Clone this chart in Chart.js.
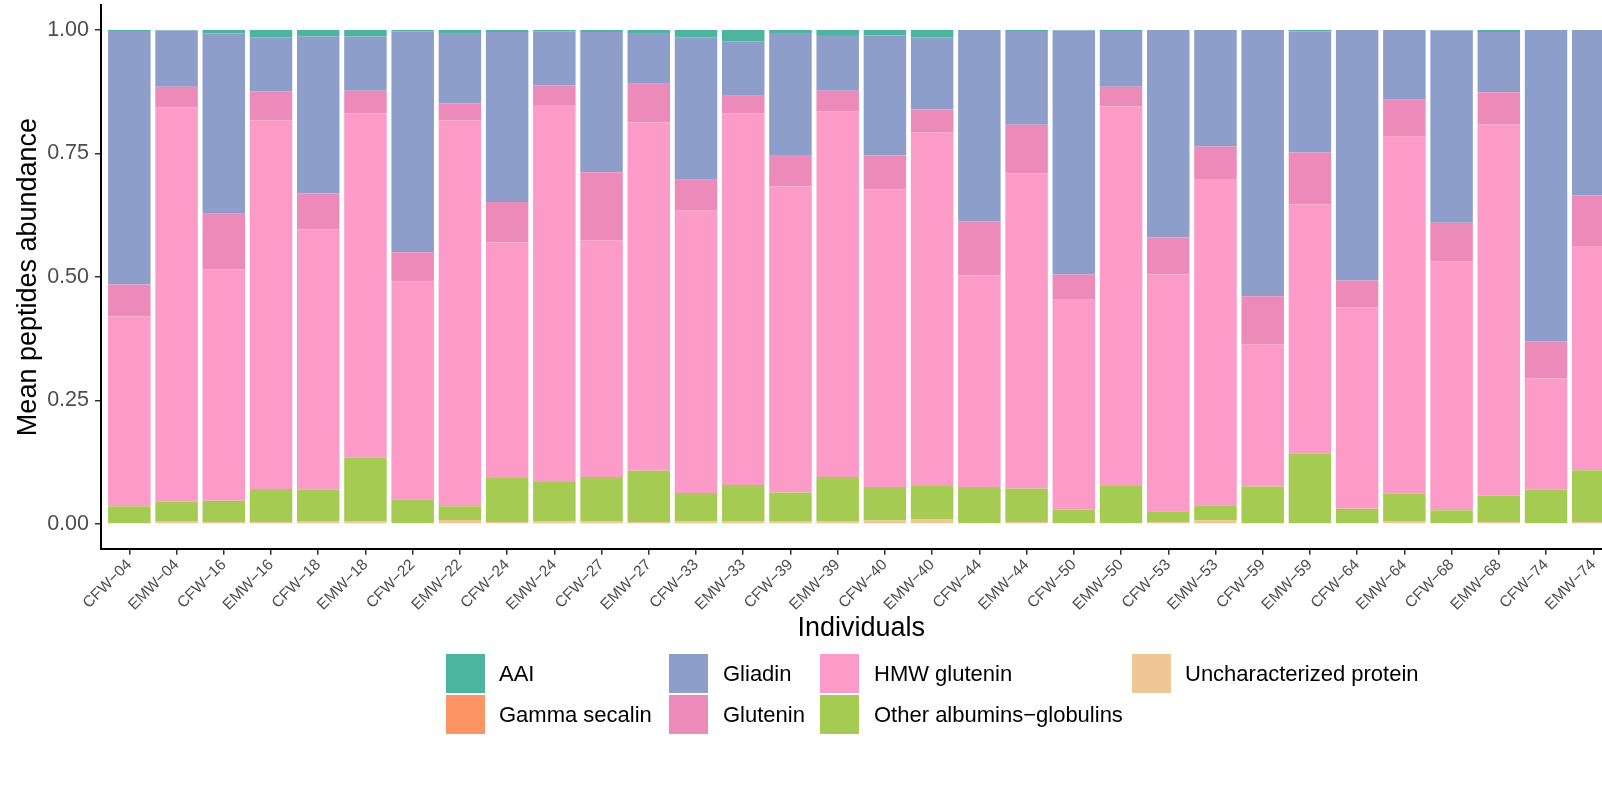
<!DOCTYPE html>
<html>
<head>
<meta charset="utf-8">
<script src="https://cdn.jsdelivr.net/npm/chart.js@4/dist/chart.umd.min.js"></script>
<style>
  html, body { margin: 0; padding: 0; background: #ffffff; overflow: hidden; }
  #wrap { width: 1602px; height: 795px; overflow: hidden; position: relative; }
  canvas { display: block; }
</style>
</head>
<body>
<div id="wrap"><canvas id="chart" width="1640" height="795"></canvas></div>
<script>
// Individuals on the x axis
const individuals = [
  'CFW−04','EMW−04','CFW−16','EMW−16','CFW−18','EMW−18','CFW−22','EMW−22',
  'CFW−24','EMW−24','CFW−27','EMW−27','CFW−33','EMW−33','CFW−39','EMW−39',
  'CFW−40','EMW−40','CFW−44','EMW−44','CFW−50','EMW−50','CFW−53','EMW−53',
  'CFW−59','EMW−59','CFW−64','EMW−64','CFW−68','EMW−68','CFW−74','EMW−74'
];

// Mean peptide abundance per protein class (fractions, each individual sums to 1)
const uncharacterized = [0.000,0.006,0.004,0.004,0.006,0.005,0.002,0.008,0.004,0.005,0.005,0.004,0.005,0.005,0.006,0.006,
                         0.007,0.009,0.002,0.004,0.002,0.002,0.004,0.007,0.000,0.000,0.000,0.006,0.002,0.004,0.000,0.004];
const otherAlbGlob   = [0.036,0.039,0.043,0.067,0.064,0.129,0.048,0.028,0.089,0.080,0.090,0.104,0.058,0.074,0.058,0.089,
                         0.068,0.068,0.073,0.068,0.027,0.075,0.022,0.031,0.076,0.143,0.031,0.056,0.026,0.053,0.070,0.105];
const hmwGlutenin    = [0.384,0.798,0.468,0.746,0.526,0.697,0.441,0.781,0.477,0.763,0.479,0.705,0.571,0.752,0.619,0.740,
                         0.602,0.716,0.428,0.638,0.425,0.768,0.479,0.659,0.288,0.504,0.408,0.722,0.504,0.752,0.225,0.452];
const glutenin       = [0.065,0.042,0.113,0.059,0.073,0.046,0.059,0.034,0.082,0.040,0.138,0.078,0.063,0.036,0.064,0.042,
                         0.069,0.046,0.110,0.098,0.051,0.040,0.075,0.067,0.097,0.105,0.054,0.075,0.078,0.065,0.075,0.104];
const gliadin        = [0.513,0.114,0.365,0.109,0.318,0.110,0.447,0.143,0.344,0.109,0.284,0.103,0.288,0.110,0.247,0.113,
                         0.243,0.146,0.387,0.190,0.494,0.113,0.420,0.236,0.539,0.245,0.507,0.141,0.389,0.122,0.630,0.335];
const gammaSecalin   = [0,0,0,0,0,0,0,0,0,0,0,0,0,0,0,0,
                         0,0,0,0,0,0,0,0,0,0,0,0,0,0,0,0];
const aai            = [0.002,0.001,0.007,0.015,0.013,0.013,0.003,0.006,0.004,0.003,0.004,0.006,0.015,0.023,0.006,0.010,
                         0.011,0.015,0.000,0.002,0.001,0.002,0.000,0.000,0.000,0.003,0.000,0.000,0.001,0.004,0.000,0.000];

// y axis ticks
const yTicks = [0, 0.25, 0.5, 0.75, 1.0];

// Stack order bottom → top
const series = [
  { label: 'Uncharacterized protein',   values: uncharacterized, color: '#EFC794' },
  { label: 'Other albumins−globulins',  values: otherAlbGlob,    color: '#A6CB53' },
  { label: 'HMW glutenin',              values: hmwGlutenin,     color: '#FC9BC7' },
  { label: 'Glutenin',                  values: glutenin,        color: '#EC8BB9' },
  { label: 'Gliadin',                   values: gliadin,         color: '#8C9EC9' },
  { label: 'Gamma secalin',             values: gammaSecalin,    color: '#FC9563' },
  { label: 'AAI',                       values: aai,             color: '#4DB59F' }
];

// Legend layout: columns, top to bottom
const legendColumns = [
  { keyX: 446, textX: 499, items: ['AAI', 'Gamma secalin'] },
  { keyX: 669, textX: 723, items: ['Gliadin', 'Glutenin'] },
  { keyX: 820, textX: 874, items: ['HMW glutenin', 'Other albumins−globulins'] },
  { keyX: 1132, textX: 1185, items: ['Uncharacterized protein'] }
];
const legendRowTop = [654, 695];
const legendKey = 39;

const FONT = '"Liberation Sans", Arial, Helvetica, sans-serif';

const legendPlugin = {
  id: 'gridLegend',
  afterDraw(chart) {
    const ctx = chart.ctx;
    ctx.save();
    ctx.font = '22px ' + FONT;
    ctx.textBaseline = 'middle';
    ctx.textAlign = 'left';
    legendColumns.forEach(col => {
      col.items.forEach((name, r) => {
        const ds = chart.data.datasets.find(d => d.label === name);
        const top = legendRowTop[r];
        ctx.fillStyle = ds.backgroundColor;
        ctx.fillRect(col.keyX, top, legendKey, legendKey);
        ctx.fillStyle = '#000000';
        ctx.fillText(name, col.textX, top + legendKey / 2 + 1);
      });
    });
    ctx.restore();
  }
};

const chart = new Chart(document.getElementById('chart'), {
  type: 'bar',
  data: {
    datasets: series.map(s => ({
      label: s.label,
      data: s.values.map((v, i) => ({ x: i, y: v })),
      backgroundColor: s.color,
      borderWidth: 0,
      barPercentage: 0.9,
      categoryPercentage: 1.0
    }))
  },
  options: {
    responsive: false,
    animation: false,
    devicePixelRatio: 1,
    layout: { padding: { left: 0, top: 5.3, right: 18.4, bottom: 0 } },
    plugins: { legend: { display: false }, tooltip: { enabled: false } },
    scales: {
      x: {
        type: 'linear',
        stacked: true,
        offset: false,
        min: -0.6,
        max: individuals.length - 1 + 0.6,
        afterFit(scale) {
          scale.height = 795 - 548.7;
          scale.paddingLeft = 0; scale.paddingRight = 0;
        },
        border: { display: true, color: '#000000', width: 2 },
        grid: { display: true, offset: false, drawOnChartArea: false, drawTicks: true, tickLength: 6, color: '#333333', lineWidth: 1.5 },
        ticks: {
          stepSize: 1,
          includeBounds: false,
          autoSkip: false,
          minRotation: 45,
          maxRotation: 45,
          padding: 1,
          color: '#4D4D4D',
          font: { family: FONT, size: 15.5 },
          callback: v => individuals[v] ?? ''
        },
        title: {
          display: true,
          text: 'Individuals',
          color: '#000000',
          font: { family: FONT, size: 27 },
          padding: { top: 0, bottom: 795 - 629 - 16.2 }
        }
      },
      y: {
        type: 'linear',
        stacked: true,
        min: -0.05,
        max: 1.05,
        afterFit(scale) {
          scale.width = 101;
          scale.paddingTop = 0; scale.paddingBottom = 0;
        },
        afterBuildTicks(scale) {
          scale.ticks = yTicks.map(v => ({ value: v }));
        },
        border: { display: true, color: '#000000', width: 2 },
        grid: { display: true, drawOnChartArea: false, drawTicks: true, tickLength: 6, color: '#333333', lineWidth: 1.5 },
        ticks: {
          padding: 6,
          color: '#4D4D4D',
          font: { family: FONT, size: 21.5 },
          callback: v => Number(v).toFixed(2)
        },
        title: {
          display: true,
          text: 'Mean peptides abundance',
          color: '#000000',
          font: { family: FONT, size: 27 },
          padding: { top: 12, bottom: 0 }
        }
      }
    }
  },
  plugins: [legendPlugin]
});
</script>
</body>
</html>
